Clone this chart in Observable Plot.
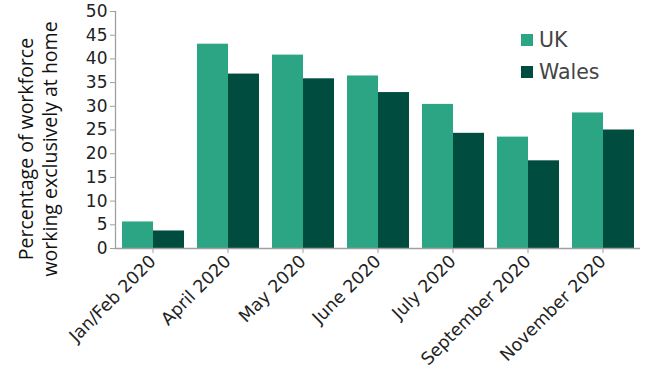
<!DOCTYPE html>
<html>
<head>
<meta charset="utf-8">
<script src="https://cdn.jsdelivr.net/npm/d3@7"></script>
<script src="https://cdn.jsdelivr.net/npm/@observablehq/plot@0.6"></script>
<style>
  html, body { margin: 0; padding: 0; background: #fff; }
  #chart { position: relative; width: 657px; height: 390px; }
  #legend { position: absolute; left: 521px; top: 24px; }
  #legend .lg-item { display: flex; align-items: center; height: 32px; font: 20.5px "DejaVu Sans", sans-serif; color: #444; }
  #legend .lg-sw { width: 12px; height: 12px; margin-right: 6px; }
</style>
</head>
<body>
<div id="chart"></div>
<script>
const months = ["Jan/Feb 2020", "April 2020", "May 2020", "June 2020", "July 2020", "September 2020", "November 2020"];
const seriesNames = ["UK", "Wales"];
const ukValues = [5.6, 43.1, 40.8, 36.4, 30.4, 23.5, 28.6];
const walesValues = [3.7, 36.8, 35.8, 32.9, 24.3, 18.5, 25.0];
const yTicks = [0, 5, 10, 15, 20, 25, 30, 35, 40, 45, 50];
const seriesColors = ["#2ba584", "#004d40"];
const yLabel = "Percentage of workforce\nworking exclusively at home";

const data = [];
months.forEach((m, i) => {
  data.push({month: m, series: seriesNames[0], value: ukValues[i]});
  data.push({month: m, series: seriesNames[1], value: walesValues[i]});
});

const plot = Plot.plot({
  width: 657,
  height: 390,
  marginLeft: 115,
  marginRight: 17,
  marginTop: 11,
  marginBottom: 142,
  style: {fontFamily: "DejaVu Sans, sans-serif", fontSize: "15px", color: "#222", background: "#fff"},
  fx: {domain: months, padding: 0, label: null},
  x: {domain: seriesNames, padding: 0, paddingOuter: 0.2, axis: null},
  y: {domain: [0, 50], label: null},
  color: {domain: seriesNames, range: seriesColors},
  marks: [
    Plot.barY(data, {fx: "month", x: "series", y: "value", fill: "series"}),
    Plot.ruleY([0], {stroke: "#a0a0a0", strokeWidth: 1.3}),
    Plot.frame({anchor: "left", facetAnchor: "left", stroke: "#a0a0a0", strokeWidth: 1.3}),
    Plot.axisY({ticks: yTicks, tickSize: 5, tickPadding: 3, stroke: "#a0a0a0", fontSize: 17, label: null}),
    Plot.axisFx({anchor: "bottom", tickRotate: -45, tickSize: 5, tickPadding: 5, stroke: "#a0a0a0", fontSize: 17.5, label: null}),
    Plot.text([yLabel], {
      text: d => d,
      frameAnchor: "left",
      textAnchor: "middle",
      rotate: -90,
      dx: -78,
      dy: 19,
      lineHeight: 1.2,
      fontSize: 19.5,
      fontFamily: "Open Sans, sans-serif",
      fill: "#111",
      facet: "super"
    })
  ]
});

const chart = document.getElementById("chart");
chart.appendChild(plot);

const legend = document.createElement("div");
legend.id = "legend";
const colorScale = plot.scale("color");
colorScale.domain.forEach((name, i) => {
  const item = document.createElement("div");
  item.className = "lg-item";
  const sw = document.createElement("span");
  sw.className = "lg-sw";
  sw.style.background = colorScale.range[i];
  const lb = document.createElement("span");
  lb.textContent = name;
  item.appendChild(sw);
  item.appendChild(lb);
  legend.appendChild(item);
});
chart.appendChild(legend);
</script>
</body>
</html>
